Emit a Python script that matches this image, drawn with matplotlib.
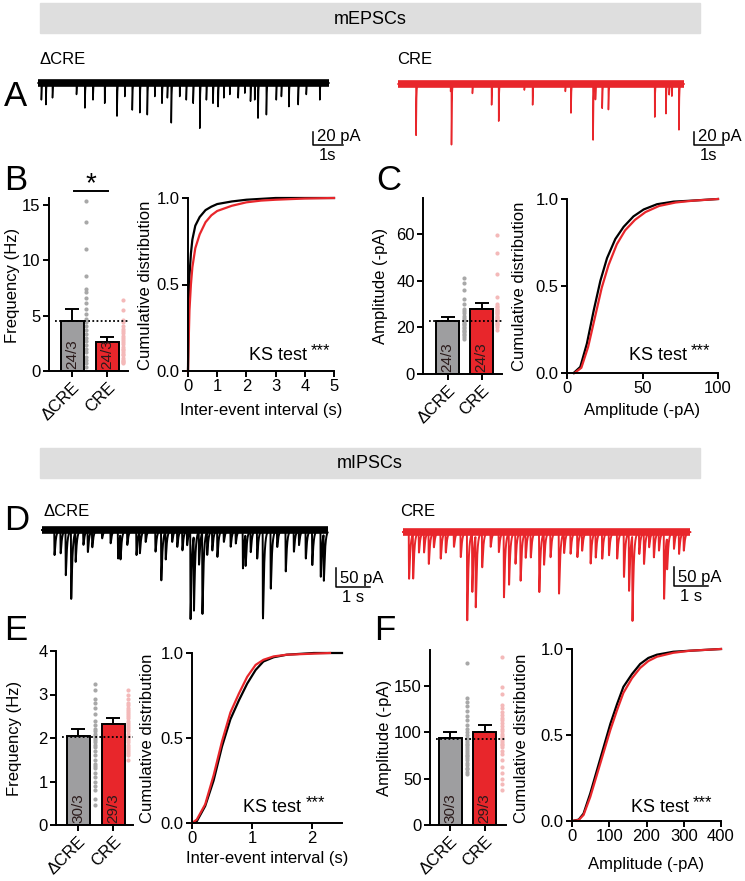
import numpy as np
import matplotlib.pyplot as plt
from matplotlib.patches import Rectangle

plt.rcParams['font.family'] = ['Liberation Sans', 'DejaVu Sans']
plt.rcParams['font.size'] = 12

# ---- example traces: event times (s) and amplitudes (pA) ----
a_dcre_t = [0.11, 0.26, 0.48, 1.28, 1.56, 1.83, 2.22, 2.63, 2.89, 3.14, 3.39, 3.64,
            3.89, 4.13, 4.31, 4.44, 4.72, 4.94, 5.17, 5.39, 5.61, 5.83, 6.00, 6.19,
            6.39, 6.67, 6.89, 7.08, 7.22, 7.33, 7.61, 7.94, 8.11, 8.36, 8.67, 8.94, 9.39]
a_dcre_amp = [25, 32, 22, 17, 37, 25, 30, 49, 20, 40, 44, 47,
              20, 30, 22, 59, 20, 25, 30, 67, 25, 30, 35, 22,
              17, 22, 15, 27, 25, 52, 47, 25, 20, 35, 32, 17, 25]
a_cre_t = [0.61, 1.78, 1.81, 2.52, 3.17, 3.41, 4.28, 4.56, 5.67, 5.86, 6.61, 6.69,
           6.92, 7.13, 8.70, 9.08, 9.19, 9.28, 9.52]
a_cre_amp = [76, 11, 89, 14, 31, 55, 9, 31, 11, 43, 83, 23,
             36, 38, 49, 44, 16, 18, 68]
a_dur = 9.7

d_dcre_t = [0.36, 0.54, 0.69, 0.85, 0.98, 1.21, 1.34, 1.47, 1.76, 2.01, 2.23, 2.30,
            2.50, 2.77, 2.87, 3.04, 3.33, 3.50, 3.63, 3.82, 3.97, 4.12, 4.26, 4.36,
            4.46, 4.61, 4.71, 4.85, 5.00, 5.15, 5.34, 5.54, 5.69, 5.90, 5.98, 6.13,
            6.32, 6.49, 6.72, 6.91, 7.16, 7.40, 7.55, 7.75, 7.94, 8.19, 8.28]
d_dcre_amp = [66, 61, 118, 180, 79, 39, 57, 44, 22, 35, 75, 66,
              39, 66, 57, 31, 57, 132, 74, 31, 44, 53, 39, 232,
              197, 88, 215, 61, 53, 70, 31, 44, 35, 101, 83, 57,
              75, 232, 154, 44, 109, 57, 39, 75, 92, 123, 123]
d_dcre_dur = 8.4
d_cre_t = [0.17, 0.29, 0.46, 0.61, 0.75, 0.90, 1.10, 1.25, 1.49, 1.69, 1.88, 2.03,
           2.13, 2.32, 2.57, 2.81, 2.96, 3.11, 3.30, 3.45, 3.60, 3.75, 4.00, 4.14,
           4.33, 4.58, 4.73, 4.92, 5.12, 5.26, 5.51, 5.66, 5.85, 6.05, 6.29, 6.49,
           6.64, 6.74, 6.94, 7.08, 7.23, 7.37, 7.52, 7.67, 7.76, 7.96, 8.11, 8.25]
d_cre_amp = [123, 118, 53, 53, 83, 39, 70, 53, 39, 66, 232, 154,
             188, 92, 39, 53, 171, 136, 83, 127, 66, 66, 158, 83,
             66, 162, 53, 57, 66, 48, 83, 66, 70, 61, 70, 118,
             153, 224, 57, 83, 39, 66, 48, 175, 83, 44, 57, 48]
d_cre_dur = 8.45

# ---- bar summaries ----
groups = ['\u0394CRE', 'CRE']
b_mean, b_err, b_n = [4.5, 2.6], [1.1, 0.5], ['24/3', '24/3']
b_dots_g = [15.3, 13.4, 11.0, 8.6, 7.4, 7.1, 6.6, 6.1, 5.6, 5.1, 4.7, 4.4,
            4.1, 3.7, 3.3, 3.0, 2.7, 2.3, 2.0, 1.7, 1.3, 1.0, 0.7, 0.4]
b_dots_r = [6.4, 5.5, 4.6, 4.4, 4.1, 3.8, 3.6, 3.4, 3.2, 3.0, 2.8, 2.6,
            2.4, 2.2, 2.0, 1.9, 1.7, 1.5, 1.4, 1.2, 1.0, 0.9, 0.8, 0.7]
c_mean, c_err, c_n = [22.5, 27.8], [2.0, 2.5], ['24/3', '24/3']
c_dots_g = [41, 39, 36, 32, 30, 28, 27, 26, 25, 24, 23, 22.5,
            22, 21.5, 21, 20, 19.5, 19, 18.5, 18, 17, 16.5, 16, 15]
c_dots_r = [59.5, 52, 43, 33, 30, 29, 28.5, 28, 27.5, 27, 26.5, 26,
            25.5, 25, 24.5, 24, 23.5, 23, 22.5, 22, 21.5, 21, 20, 19]
e_mean, e_err, e_n = [2.05, 2.33], [0.15, 0.12], ['30/3', '29/3']
e_dots_g = [3.25, 3.1, 2.9, 2.8, 2.7, 2.55, 2.4, 2.3, 2.2, 2.15, 2.1, 2.05, 2.0, 1.95, 1.9,
            1.85, 1.8, 1.7, 1.6, 1.5, 1.4, 1.35, 1.3, 1.2, 1.1, 1.0, 0.9, 0.8, 0.6, 0.45]
e_dots_r = [3.1, 3.0, 2.9, 2.8, 2.75, 2.7, 2.65, 2.6, 2.55, 2.5, 2.45, 2.4, 2.35, 2.3, 2.25,
            2.2, 2.15, 2.1, 2.05, 2.0, 1.95, 1.9, 1.85, 1.8, 1.75, 1.7, 1.65, 1.6, 1.5]
f_mean, f_err, f_n = [93.5, 100.5], [6.5, 7.0], ['30/3', '29/3']
f_dots_g = [175, 137, 133, 128, 123, 118, 113, 108, 104, 100, 97, 94, 92, 90, 88,
            86, 84, 82, 80, 78, 76, 74, 72, 70, 67, 65, 62, 60, 57, 55]
f_dots_r = [181, 149, 142, 130, 126, 122, 119, 116, 113, 110, 107, 104, 101, 98, 96,
            94, 92, 90, 88, 86, 84, 80, 77, 70, 63, 56, 50, 44, 38]

# ---- cumulative distributions ----
b_cx = [0, 0.02, 0.05, 0.1, 0.15, 0.25, 0.4, 0.6, 0.8, 1.0, 1.5, 2.0, 2.5, 3, 4, 5]
b_cdf_k = [0, 0.35, 0.55, 0.68, 0.76, 0.84, 0.89, 0.93, 0.95, 0.965, 0.98, 0.99, 0.995, 1, 1, 1]
b_cdf_r = [0, 0.15, 0.35, 0.5, 0.6, 0.71, 0.79, 0.86, 0.9, 0.925, 0.955, 0.975, 0.985, 0.99, 0.997, 1]
c_cx_k = [4.4, 8.8, 13.2, 17.7, 22.1, 26.5, 32, 37.5, 44, 50.8, 59.6, 70.6, 81.6, 100]
c_cdf_k = [0, 0.035, 0.17, 0.36, 0.53, 0.66, 0.77, 0.84, 0.9, 0.94, 0.97, 0.985, 0.99, 1]
c_cx_r = [5, 9.5, 14, 18.5, 23, 27.5, 33, 38.5, 45, 52, 61, 72, 83, 100]
c_cdf_r = [0, 0.03, 0.15, 0.32, 0.49, 0.62, 0.74, 0.82, 0.88, 0.925, 0.96, 0.98, 0.99, 1]
e_cx_k = [0, 0.08, 0.22, 0.36, 0.5, 0.64, 0.78, 0.92, 1.06, 1.19, 1.36, 1.58, 2.03, 2.5]
e_cdf_k = [0, 0.01, 0.1, 0.25, 0.45, 0.61, 0.72, 0.82, 0.9, 0.95, 0.975, 0.99, 1, 1]
e_cx_r = [0, 0.08, 0.22, 0.36, 0.5, 0.64, 0.78, 0.92, 1.06, 1.19, 1.36, 1.58, 2.3]
e_cdf_r = [0, 0.02, 0.11, 0.28, 0.48, 0.65, 0.76, 0.86, 0.93, 0.96, 0.98, 0.99, 1.0]
f_cx = [0, 18, 31, 49, 67, 85, 103, 121, 138, 161, 183, 205, 228, 272, 317, 400]
f_cdf_k = [0, 0.008, 0.043, 0.16, 0.295, 0.43, 0.565, 0.68, 0.78, 0.854, 0.913, 0.948,
           0.967, 0.984, 0.99, 1]
f_cdf_r = [0, 0.006, 0.035, 0.14, 0.27, 0.4, 0.53, 0.645, 0.745, 0.83, 0.89, 0.93,
           0.955, 0.978, 0.99, 1]

GRAY = '#9e9ea0'
RED = '#e8262b'
DOT_G = '#a8a8a8'
DOT_R = '#f4b9b9'

W, H = 745, 881
fig = plt.figure(figsize=(W / 100, H / 100), dpi=100)


def px_axes(l, t, r, b):
    return fig.add_axes([l / W, 1 - b / H, (r - l) / W, (b - t) / H])


def fig_text(x, y, s, **kw):
    kw.setdefault('ha', 'center')
    kw.setdefault('va', 'center')
    fig.text(x / W, 1 - y / H, s, **kw)


def style_axes(ax):
    for s in ['top', 'right']:
        ax.spines[s].set_visible(False)
    for s in ['left', 'bottom']:
        ax.spines[s].set_linewidth(1.4)
    ax.tick_params(width=1.4, length=4, labelsize=12, pad=2)


def trace(box, x0, y0, pps, ppa, times, amps, dur, color, tau, lw_base, lw, sb):
    l, t, r, b = box
    ax = px_axes(l, t, r, b)
    ax.set_xlim((l - x0) / pps, (r - x0) / pps)
    ax.set_ylim((y0 - b) / ppa, (y0 - t) / ppa)
    ax.axis('off')
    tt = np.linspace(0, dur, 40000)
    yy = np.zeros_like(tt)
    for t0, a in zip(times, amps):
        dt = tt - t0
        m = dt >= 0
        k = (1 - np.exp(-dt[m] / (tau / 8))) * np.exp(-dt[m] / tau)
        yy[m] -= a * k / k.max()
    ax.plot([0, dur], [0, 0], color=color, lw=lw_base, solid_capstyle='butt')
    ax.plot(tt, yy, color=color, lw=lw)
    # scale bar
    sx, sy, amp, lab_a, lab_t = sb
    tx = (sx - x0) / pps
    ty = (y0 - sy) / ppa
    ax.plot([tx, tx, tx + 1], [ty + amp, ty, ty], color='k', lw=1.1, clip_on=False)
    ax.text(tx + 4 / pps, ty + 1 / ppa, lab_a, ha='left', va='bottom', fontsize=12)
    ax.text(tx + 0.5, ty - 3 / ppa, lab_t, ha='center', va='top', fontsize=12)
    return ax


def bar_panel(box, c0, sp, dots_x, ylim, yticks, means, errs, ns, dg, dr, ref):
    l, t, r, b = box
    ax = px_axes(l, t, r, b)
    style_axes(ax)
    ax.set_xlim((l - c0) / sp, (r - c0) / sp)
    ax.set_ylim(*ylim)
    w = 23 / sp
    ax.bar([0, 1], means, width=w, color=[GRAY, RED], edgecolor='k', lw=1.4, zorder=2)
    ax.errorbar([0, 1], means, yerr=[[0, 0], errs], fmt='none', ecolor='k',
                elinewidth=1.4, capsize=5, capthick=1.4, zorder=1)
    ax.plot([dots_x[0]] * len(dg), dg, 'o', ms=3, color=DOT_G, mec='none', zorder=1)
    ax.plot([dots_x[1]] * len(dr), dr, 'o', ms=3, color=DOT_R, mec='none', zorder=1)
    ax.axhline(ref, xmin=0.08, xmax=1, color='k', ls=(0, (1, 1.3)), lw=1.3, zorder=3)
    for i, n in enumerate(ns):
        ax.text(i, ylim[1] * 0.01, n, rotation=90, ha='center', va='bottom',
                fontsize=11, color='#2a1a1a', zorder=4)
    ax.set_yticks(yticks)
    ax.set_xticks([0, 1])
    ax.set_xticklabels(groups, rotation=45, ha='right', rotation_mode='anchor',
                       fontsize=12)
    return ax


def cdf_panel(box, xk, yk, xr, yr, xlim, xticks, ks):
    l, t, r, b = box
    ax = px_axes(l, t, r, b)
    style_axes(ax)
    ax.plot(xk, yk, color='k', lw=1.6, clip_on=False)
    ax.plot(xr, yr, color=RED, lw=1.6, clip_on=False)
    ax.set_xlim(*xlim)
    ax.set_ylim(0, 1)
    ax.set_xticks(xticks)
    ax.set_yticks([0, 0.5, 1.0])
    ax.set_yticklabels(['0.0', '0.5', '1.0'])
    kt = ax.text(ks[0], ks[1], 'KS test', ha='right', va='baseline', fontsize=13)
    ax.annotate('***', xy=(1, 0.78), xycoords=kt, xytext=(3, 0), textcoords='offset points',
                ha='left', va='center', fontsize=12)
    return ax


# headers
for y0, lab in [(3, 'mEPSCs'), (448, 'mIPSCs')]:
    fig.patches.append(Rectangle((40 / W, 1 - (y0 + 30) / H), 660 / W, 30 / H,
                                 transform=fig.transFigure, color='#dedede', zorder=0))
    fig_text(370, y0 + 16, lab, fontsize=13)

# panel letters
for x, y, s in [(4, 97, 'A'), (4, 181, 'B'), (376, 181, 'C'),
                (4, 521, 'D'), (4, 631, 'E'), (374, 631, 'F')]:
    fig_text(x, y, s, ha='left', fontsize=25)

# traces
fig_text(40, 60, '\u0394CRE', ha='left')
fig_text(397, 60, 'CRE', ha='left')
fig_text(43, 511, '\u0394CRE', ha='left')
fig_text(400, 511, 'CRE', ha='left')

trace((30, 45, 370, 170), 38, 83, 30, 0.675, a_dcre_t, a_dcre_amp, a_dur, 'k',
      0.012, 5.5, 1.1, (313, 145, 20, '20 pA', '1s'))
trace((390, 45, 740, 170), 398, 84, 29.5, 0.675, a_cre_t, a_cre_amp, a_dur, RED,
      0.012, 5.5, 1.1, (694, 145, 20, '20 pA', '1s'))
trace((30, 495, 380, 630), 42, 530, 34, 0.38, d_dcre_t, d_dcre_amp, d_dcre_dur, 'k',
      0.035, 5.5, 1.4, (336, 587, 50, '50 pA', '1 s'))
trace((390, 495, 740, 630), 403, 532, 34, 0.38, d_cre_t, d_cre_amp, d_cre_dur, RED,
      0.035, 5.5, 1.4, (674, 586, 50, '50 pA', '1 s'))

# B
axb = bar_panel((49, 198, 128, 371), 72, 35, [0.4, 1.457], (0, 15.6), [0, 5, 10, 15],
                b_mean, b_err, b_n, b_dots_g, b_dots_r, 4.5)
axb.plot([0.06, 1.03], [16.2, 16.2], color='k', lw=1.4, clip_on=False)
axb.text(0.55, 15.7, '*', ha='center', va='bottom', fontsize=20, clip_on=False)
fig_text(13, 285, 'Frequency (Hz)', rotation=90)
cdf_panel((188, 198, 334, 371), b_cx, b_cdf_k, b_cx, b_cdf_r, (0, 5), [0, 1, 2, 3, 4, 5],
          (4.06, 0.064))
fig_text(146, 285, 'Cumulative distribution', rotation=90)
fig_text(261, 410, 'Inter-event interval (s)')

# C
bar_panel((423, 198, 502, 374), 447.5, 34, [0.485, 1.456], (0, 75.4), [0, 20, 40, 60],
          c_mean, c_err, c_n, c_dots_g, c_dots_r, 22.5)
fig_text(381, 286, 'Amplitude (-pA)', rotation=90)
cdf_panel((567, 199, 718, 373), c_cx_k, c_cdf_k, c_cx_r, c_cdf_r, (0, 100), [0, 50, 100],
          (79.5, 0.075))
fig_text(520, 286, 'Cumulative distribution', rotation=90)
fig_text(642, 410, 'Amplitude (-pA)')

# E
bar_panel((56, 651, 133, 825), 78, 35, [0.486, 1.43], (0, 4), [0, 1, 2, 3, 4],
          e_mean, e_err, e_n, e_dots_g, e_dots_r, 2.03)
fig_text(15, 738, 'Frequency (Hz)', rotation=90)
cdf_panel((192, 653, 342, 823), e_cx_k, e_cdf_k, e_cx_r, e_cdf_r, (0, 2.5), [0, 1, 2],
          (1.82, 0.065))
fig_text(147, 738, 'Cumulative distribution', rotation=90)
fig_text(267, 858, 'Inter-event interval (s)')

# F
bar_panel((430, 650, 506, 825), 450, 34.5, [0.49, 1.5], (0, 189), [0, 50, 100, 150],
          f_mean, f_err, f_n, f_dots_g, f_dots_r, 93)
fig_text(384, 738, 'Amplitude (-pA)', rotation=90)
cdf_panel((572, 649, 721, 821), f_cx, f_cdf_k, f_cx, f_cdf_r, (0, 400), [0, 100, 200, 300, 400],
          (314, 0.052))
fig_text(522, 738, 'Cumulative distribution', rotation=90)
fig_text(646, 864, 'Amplitude (-pA)')

fig.savefig('out.png', dpi=100)
